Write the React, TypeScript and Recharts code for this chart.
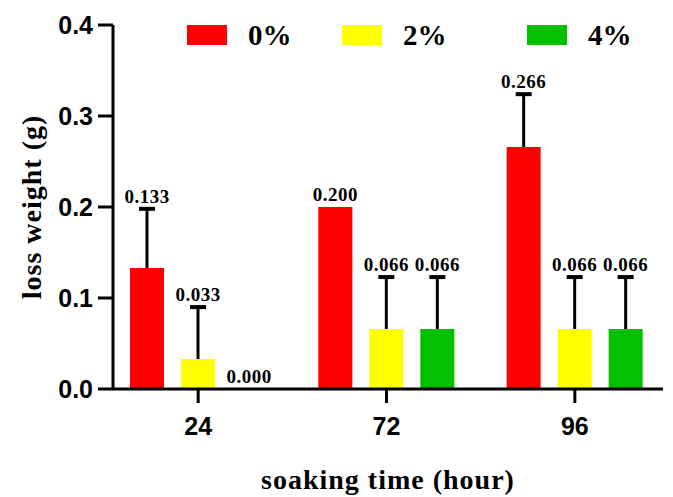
import { BarChart, Bar, XAxis, YAxis, LabelList } from "recharts";

const categories = ["24", "72", "96"];
const mean0 = [0.133, 0.2, 0.266];
const err0 = [0.065, 0, 0.058];
const mean2 = [0.033, 0.066, 0.066];
const err2 = [0.057, 0.057, 0.057];
const mean4 = [0, 0.066, 0.066];
const err4 = [0, 0.057, 0.057];
const yTicks = [0, 0.1, 0.2, 0.3, 0.4];

const series = [
  { key: "0", name: "0%", color: "#ff0000" },
  { key: "2", name: "2%", color: "#ffff00" },
  { key: "4", name: "4%", color: "#00c000" },
];
// width of each legend slot (rect + text + gap to next one)
const legendSlots = [155, 185, 110];

const data = categories.map((time, i) => ({
  time,
  m0: mean0[i],
  e0: err0[i],
  m2: mean2[i],
  e2: err2[i],
  m4: mean4[i],
  e4: err4[i],
}));

const SERIF = "'Liberation Serif', 'Times New Roman', serif";
const SANS = "'Liberation Sans', Arial, sans-serif";

// draws the upper half of the error bar on top of the stacked mean bar
function ErrorShape(props: any) {
  const { x, y, width, height } = props;
  if (!height || height <= 0) return <g />;
  const cx = x + width / 2;
  return (
    <g stroke="#000">
      <line x1={cx} y1={y + height} x2={cx} y2={y} strokeWidth={3} />
      <line x1={cx - 8} y1={y} x2={cx + 8} y2={y} strokeWidth={4} />
    </g>
  );
}

function YTitle(props: any) {
  const { viewBox } = props;
  const cx = viewBox.x + 23;
  const cy = viewBox.y + viewBox.height / 2;
  return (
    <text
      x={cx}
      y={cy}
      transform={`rotate(-90 ${cx} ${cy})`}
      textAnchor="middle"
      dominantBaseline="central"
      fontFamily={SERIF}
      fontWeight="bold"
      fontSize={28}
      letterSpacing={1}
      fill="#000"
    >
      loss weight (g)
    </text>
  );
}

function XTitle(props: any) {
  const { viewBox } = props;
  return (
    <text
      x={viewBox.x + viewBox.width / 2}
      y={viewBox.y + 100}
      textAnchor="middle"
      fontFamily={SERIF}
      fontWeight="bold"
      fontSize={28}
      letterSpacing={1}
      fill="#000"
    >
      soaking time (hour)
    </text>
  );
}

const axisStyle = { stroke: "#000", strokeWidth: 3 };
const tickFont = { fontFamily: SANS, fontWeight: "bold", fontSize: 25, fill: "#000" };
const labelFont = {
  fontFamily: SERIF,
  fontWeight: "bold",
  fontSize: 19,
  letterSpacing: 0.5,
  fill: "#000",
};

export default function App() {
  return (
    <div style={{ position: "relative", width: 665, height: 489, background: "#fff" }}>
      <div
        style={{
          position: "absolute",
          left: 179,
          top: 7,
          display: "flex",
          alignItems: "center",
          zIndex: 2,
        }}
      >
        {series.map((s, i) => (
          <div
            key={s.key}
            style={{ width: legendSlots[i], display: "flex", alignItems: "center" }}
          >
            <span style={{ width: 40, height: 20, background: s.color, display: "inline-block" }} />
            <span
              style={{
                marginLeft: 21,
                fontFamily: SERIF,
                fontWeight: "bold",
                fontSize: 29,
                lineHeight: "40px",
                color: "#000",
              }}
            >
              {s.name}
            </span>
          </div>
        ))}
      </div>
      <BarChart
        width={665}
        height={489}
        data={data}
        barSize={34}
        barGap={17}
        margin={{ top: 17, right: 10, left: 0, bottom: 0 }}
      >
        <XAxis
          dataKey="time"
          height={108}
          padding={{ left: -9, right: -6 }}
          axisLine={axisStyle}
          tickLine={axisStyle}
          tickSize={14}
          tickMargin={14}
          tick={tickFont}
          label={<XTitle />}
        />
        <YAxis
          width={105}
          domain={[0, 0.4]}
          ticks={yTicks}
          tickFormatter={(v: number) => v.toFixed(1)}
          axisLine={axisStyle}
          tickLine={axisStyle}
          tickSize={15}
          tickMargin={5}
          tick={tickFont}
          label={<YTitle />}
        />
        {series.map((s) => [
          <Bar
            key={"m" + s.key}
            dataKey={"m" + s.key}
            stackId={"s" + s.key}
            fill={s.color}
            isAnimationActive={false}
          />,
          <Bar
            key={"e" + s.key}
            dataKey={"e" + s.key}
            stackId={"s" + s.key}
            fill="none"
            shape={<ErrorShape />}
            isAnimationActive={false}
          >
            <LabelList
              dataKey={"m" + s.key}
              position="top"
              offset={6}
              formatter={(v: any) => Number(v).toFixed(3)}
              style={labelFont}
            />
          </Bar>,
        ])}
      </BarChart>
    </div>
  );
}
